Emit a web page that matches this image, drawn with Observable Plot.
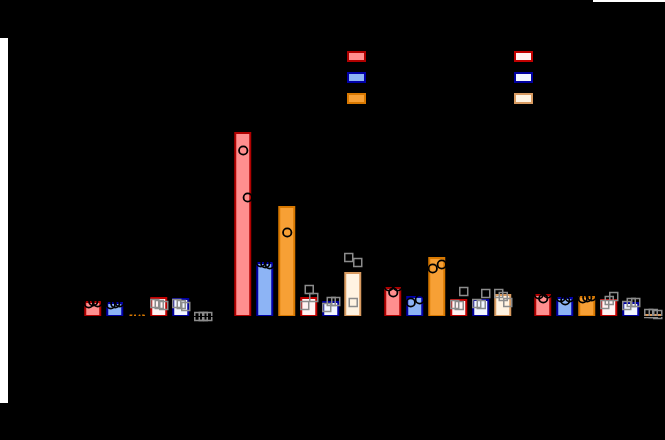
<!DOCTYPE html>
<html>
<head>
<meta charset="utf-8">
<script src="https://cdn.jsdelivr.net/npm/d3@7"></script>
<script src="https://cdn.jsdelivr.net/npm/@observablehq/plot@0.6"></script>
<style>
  html, body { margin: 0; padding: 0; background: #000; }
  #wrap { position: relative; width: 665px; height: 440px; overflow: hidden; background: #000; font-family: "Liberation Sans", Arial, sans-serif; }
  .strip { position: absolute; background: #fff; }
  .legend { position: absolute; font-size: 12px; color: #000; }
  .legend .item { display: flex; align-items: center; height: 21px; }
  .legend .sw { width: 15px; height: 7px; border: 2px solid; margin-right: 6px; }
</style>
</head>
<body>
<div id="wrap"></div>
<script>
// ---- data ----
const groups = ["Group 1", "Group 2", "Group 3", "Group 4"];
const series = ["A", "B", "C", "A (light)", "B (light)", "C (light)"];
const fills   = ["#ff8f8f", "#8db4f5", "#f7a035", "#fff3f3", "#f2f6ff", "#fff3e2"];
const strokes = ["#b00000", "#0000a8", "#d87800", "#c00000", "#0000a0", "#d89a60"];

// mean bar heights per series, one value per group
const meanA  = [1.4, 18.3, 2.8, 2.1];
const meanB  = [1.3, 5.3, 1.9, 1.8];
const meanC  = [0.05, 10.9, 5.8, 1.9];
const meanAL = [1.8, 1.8, 1.6, 1.6];
const meanBL = [1.7, 1.4, 1.6, 1.3];
const meanCL = [0.0, 4.3, 2.1, 0.1];

// individual replicate points per series, per group
const ptsA  = [[1.5, 1.3, 1.4], [16.6, 26.4, 11.9], [2.4, 3.0, 3.0], [1.8, 2.2, 2.3]];
const ptsB  = [[1.3, 1.2, 1.4], [5.3, 5.4, 5.2], [2.6, 1.4, 1.7], [1.6, 1.9, 1.9]];
const ptsC  = [[0.05, 0.1, 0.0], [8.4, 12.2, 12.1], [7.4, 4.8, 5.2], [1.9, 1.8, 2.0]];
const ptsAL = [[1.2, 1.3, 1.1], [2.7, 1.1, 1.9], [1.1, 1.2, 2.5], [1.6, 1.2, 2.0]];
const ptsBL = [[1.2, 1.3, 1.0], [1.5, 0.9, 1.5], [1.2, 1.3, 2.3], [1.4, 1.1, 1.4]];
const ptsCL = [[0.0, 0.0, 0.0], [1.4, 5.9, 5.4], [2.0, 2.3, 1.4], [0.3, 0.3, 0.2]];

// ---- build tables ----
const means = [meanA, meanB, meanC, meanAL, meanBL, meanCL];
const pts = [ptsA, ptsB, ptsC, ptsAL, ptsBL, ptsCL];
const bars = [];
const points = [];
series.forEach((s, si) => {
  groups.forEach((g, gi) => {
    bars.push({group: g, series: s, value: means[si][gi], light: si >= 3});
    pts[si][gi].forEach((v, k) => points.push({group: g, series: s, value: v, k, light: si >= 3}));
  });
});
const strokeOf = Object.fromEntries(series.map((s, i) => [s, strokes[i]]));
const offsets = [0, -4.5, 4.5];

const dotMarks = [];
offsets.forEach((off, k) => {
  dotMarks.push(Plot.dot(points.filter(d => d.k === k && !d.light), {
    fx: "group", x: "series", y: "value", r: 4.2, dx: off,
    stroke: "#000", strokeWidth: 1.8, fill: "none"
  }));
  dotMarks.push(Plot.dot(points.filter(d => d.k === k && d.light), {
    fx: "group", x: "series", y: "value", r: 4.5, dx: off, symbol: "square",
    stroke: "#8c8c8c", strokeWidth: 1.5, fill: "none"
  }));
});

const chart = Plot.plot({
  width: 665,
  height: 440,
  marginTop: 16,
  marginBottom: 124,
  marginLeft: 79.75,
  marginRight: 0.25,
  style: {background: "#000", color: "#000", fontSize: "12px", fontFamily: "Liberation Sans, Arial, sans-serif"},
  fx: {domain: groups, paddingInner: 0.1, paddingOuter: 0, label: null, axis: "bottom"},
  x: {domain: series, paddingInner: 1 / 3, paddingOuter: 1 / 6, axis: null},
  y: {domain: [0, 30], label: "Relative expression", labelAnchor: "center", labelOffset: 50, ticks: 6},
  color: {domain: series, range: fills},
  marks: [
    Plot.barY(bars, {fx: "group", x: "series", y: "value", fill: "series",
      stroke: d => strokeOf[d.series], strokeWidth: 2}),
    ...dotMarks,
    Plot.ruleY([0], {stroke: "#000"})
  ]
});

const wrap = document.getElementById("wrap");
wrap.appendChild(chart);

// white strips seen at the edges of the reference
const s1 = document.createElement("div");
s1.className = "strip";
Object.assign(s1.style, {left: "0px", top: "38px", width: "8px", height: "365px"});
wrap.appendChild(s1);
const s2 = document.createElement("div");
s2.className = "strip";
Object.assign(s2.style, {left: "593px", top: "0px", width: "72px", height: "2px"});
wrap.appendChild(s2);

// legend (two columns)
[[0, 347], [3, 514]].forEach(([start, left]) => {
  const col = document.createElement("div");
  col.className = "legend";
  Object.assign(col.style, {left: left + "px", top: "46px"});
  for (let i = start; i < start + 3; i++) {
    const it = document.createElement("div");
    it.className = "item";
    const sw = document.createElement("span");
    sw.className = "sw";
    sw.style.background = fills[i];
    sw.style.borderColor = strokes[i];
    it.appendChild(sw);
    it.appendChild(document.createTextNode(series[i]));
    col.appendChild(it);
  }
  wrap.appendChild(col);
});
</script>
</body>
</html>
